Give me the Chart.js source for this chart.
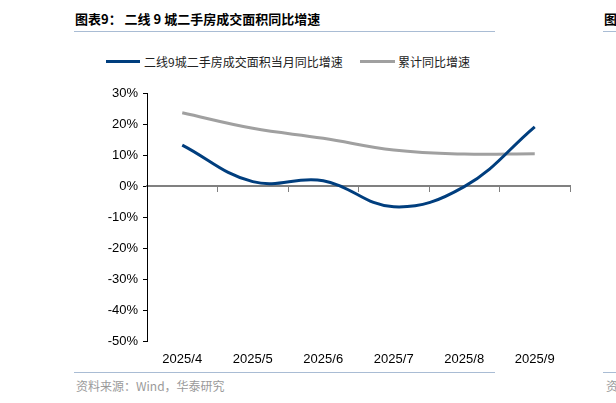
<!DOCTYPE html>
<html><head><meta charset="utf-8">
<script src="https://cdn.jsdelivr.net/npm/chart.js@4/dist/chart.umd.min.js"></script>
<style>
html,body{margin:0;padding:0;background:#fff;}
#wrap{position:relative;width:616px;height:403px;overflow:hidden;font-family:"Noto Sans CJK SC",sans-serif;}
.abs{position:absolute;white-space:nowrap;}
#title{left:75px;top:9px;font-size:13px;font-weight:bold;color:#000;}
.rule{position:absolute;height:1px;background:#a9bcd4;}
.leg{font-size:12px;color:#222;top:53px;}
.legline{position:absolute;height:3px;}
#src{left:76px;top:377px;font-size:12px;color:#9a9a9a;}
#cv{position:absolute;left:60px;top:80px;}
</style></head>
<body><div id="wrap">
<div class="abs" id="title">图表9：&nbsp;二线 9 城二手房成交面积同比增速</div>
<div class="rule" style="left:74px;top:31px;width:421px;"></div>
<div class="abs" style="left:604px;top:9px;font-size:13px;font-weight:bold;">图</div>
<div class="rule" style="left:603px;top:31px;width:13px;"></div>
<div class="legline" style="left:106px;top:60px;width:34px;background:#003E7E;"></div>
<div class="abs leg" style="left:144px;">二线9城二手房成交面积当月同比增速</div>
<div class="legline" style="left:360px;top:60px;width:35px;background:#A0A0A0;"></div>
<div class="abs leg" style="left:398px;">累计同比增速</div>
<div class="rule" style="left:74px;top:372px;width:421px;"></div>
<div class="rule" style="left:603px;top:372px;width:13px;"></div>
<div class="abs" id="src">资料来源：Wind，华泰研究</div>
<div class="abs" style="left:606px;top:377px;font-size:12px;color:#9a9a9a;">资</div>
<canvas id="cv" width="540" height="290"></canvas>
</div>
<script>
const categories = ["2025/4","2025/5","2025/6","2025/7","2025/8","2025/9"];
const monthlyYoY = [13.2, 1.4, 1.7, -6.7, -0.2, 19.1];
const cumulativeYoY = [23.6, 18.6, 15.4, 11.6, 10.3, 10.4];
const seriesNames = ["二线9城二手房成交面积当月同比增速","累计同比增速"];
const yTicks = [30,20,10,0,-10,-20,-30,-40,-50];

new Chart(document.getElementById('cv'), {
  type: 'line',
  data: {
    labels: categories,
    datasets: [
      {label: seriesNames[0], data: monthlyYoY, borderColor:'#003E7E', backgroundColor:'#003E7E', borderWidth:3, pointRadius:0, tension:0.4, xAxisID:'x'},
      {label: seriesNames[1], data: cumulativeYoY, borderColor:'#A0A0A0', backgroundColor:'#A0A0A0', borderWidth:3, pointRadius:0, tension:0.4, xAxisID:'x'}
    ]
  },
  options: {
    responsive:false, animation:false, devicePixelRatio:1,
    layout:{padding:{left:0,right:30,top:13,bottom:0}},
    plugins:{legend:{display:false}, tooltip:{enabled:false}},
    scales:{
      x:{
        position:'bottom', offset:true,
        grid:{display:false}, border:{display:false},
        ticks:{color:'#000', font:{family:'"Liberation Sans", Arial, sans-serif', size:13}, padding:3, maxRotation:0},
        afterFit(s){ s.height = 29; }
      },
      x2:{
        type:'category', position:{y:0}, offset:true,
        grid:{offset:true, drawOnChartArea:false, drawTicks:true, tickLength:5, color:'#808080', lineWidth:1},
        border:{display:true, color:'#808080', width:2},
        ticks:{display:false}
      },
      y:{
        min:-50, max:30,
        afterBuildTicks(s){ s.ticks = yTicks.map(v=>({value:v})); },
        grid:{drawOnChartArea:false, drawTicks:true, tickLength:4, color:'#000'},
        border:{display:true, color:'#000', width:1},
        ticks:{color:'#000', font:{family:'"Liberation Sans", Arial, sans-serif', size:13}, padding:5, callback:v=>v+'%'},
        afterFit(s){ s.width = 87; }
      }
    }
  }
});
</script>
</body></html>
